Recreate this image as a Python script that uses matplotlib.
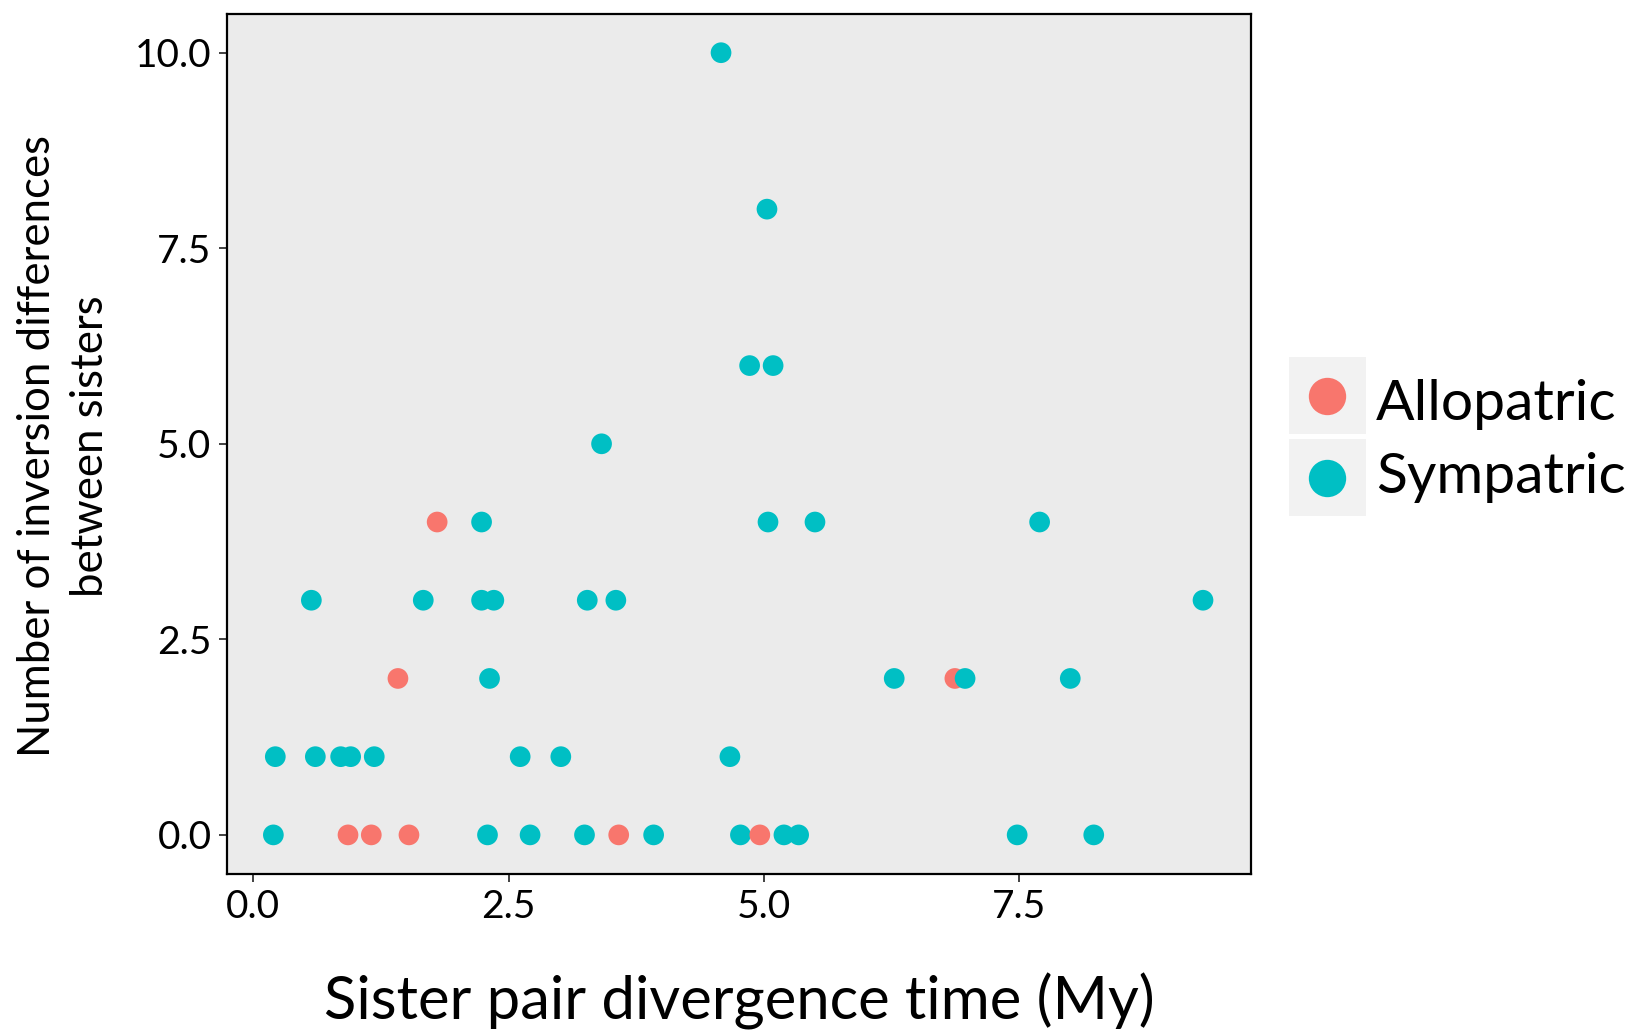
import numpy as np
import matplotlib
matplotlib.use("Agg")
import matplotlib.pyplot as plt
from matplotlib.patches import Rectangle
from matplotlib.lines import Line2D

plt.rcParams['font.family'] = ['Lato', 'DejaVu Sans']

# divergence time (My) and number of inversion differences
allo_x = [1.80, 1.416, 0.927, 1.155, 1.524, 3.578, 4.96, 6.87]
allo_y = [4, 2, 0, 0, 0, 0, 0, 2]

symp_x = [4.58,
          5.03,
          4.86, 5.09,
          3.41,
          2.235, 5.04, 5.50, 7.70,
          0.568, 1.664, 2.235, 2.355, 3.27, 3.55, 9.30,
          2.313, 6.276, 6.97, 8.00,
          0.215, 0.607, 0.855, 0.953, 1.184, 2.613, 3.011, 4.667,
          0.196, 2.293, 2.71, 3.243, 3.92, 4.77, 5.196, 5.34, 7.48, 8.23]
symp_y = [10,
          8,
          6, 6,
          5,
          4, 4, 4, 4,
          3, 3, 3, 3, 3, 3, 3,
          2, 2, 2, 2,
          1, 1, 1, 1, 1, 1, 1, 1,
          0, 0, 0, 0, 0, 0, 0, 0, 0, 0]

groups = ["Allopatric", "Sympatric"]
colors = {"Allopatric": "#F8766D", "Sympatric": "#00BFC4"}

# combine, drawing in x order so overlaps stack like the original
xs = np.array(allo_x + symp_x)
ys = np.array(allo_y + symp_y)
cs = np.array([colors["Allopatric"]] * len(allo_x) + [colors["Sympatric"]] * len(symp_x))
order = np.argsort(xs, kind="stable")

W, H = 1639, 1034
fig = plt.figure(figsize=(W / 100, H / 100), dpi=100)
ax = fig.add_axes([226.8 / W, 1 - 874 / H, (1251 - 226.8) / W, (874 - 13.6) / H])
ax.set_facecolor("#EBEBEB")
ax.scatter(xs[order], ys[order], c=cs[order], s=222, edgecolors='none', zorder=3)

ax.set_xlim(-0.26, 9.77)
ax.set_ylim(-0.5, 10.5)
ax.set_xticks([0, 2.5, 5, 7.5])
ax.set_xticklabels(["0.0", "2.5", "5.0", "7.5"])
ax.set_yticks([0, 2.5, 5, 7.5, 10])
ax.set_yticklabels(["0.0", "2.5", "5.0", "7.5", "10.0"])
ax.tick_params(axis='both', length=6, width=1.3, color='#333333',
               labelsize=28, labelcolor='black', pad=5)
for sp in ax.spines.values():
    sp.set_linewidth(1.6)
    sp.set_color('black')

fig.text(739 / W, 1 - 1019 / H, "Sister pair divergence time (My)",
         fontsize=43, ha='center', va='baseline')
fig.text(64 / W, 1 - 446 / H, "Number of inversion differences\nbetween sisters",
         fontsize=31.5, rotation=90, ha='center', va='center', multialignment='center',
         linespacing=1.35)

# legend drawn by hand: grey key boxes with large dots
box_tops = [357.3, 439.3]
baselines = [420, 493]
for g, top, base in zip(groups, box_tops, baselines):
    fig.add_artist(Rectangle((1289 / W, 1 - (top + 76.7) / H), 76.7 / W, 76.7 / H,
                             transform=fig.transFigure, facecolor='#F2F2F2',
                             edgecolor='none'))
    cy = top + 38.4
    fig.add_artist(Line2D([1327 / W], [1 - cy / H], transform=fig.transFigure,
                          marker='o', markersize=26.9, color=colors[g],
                          markeredgewidth=0, linestyle='none'))
    fig.text(1376 / W, 1 - base / H, g, fontsize=41, ha='left', va='baseline')

fig.savefig("out.png", dpi=100)
